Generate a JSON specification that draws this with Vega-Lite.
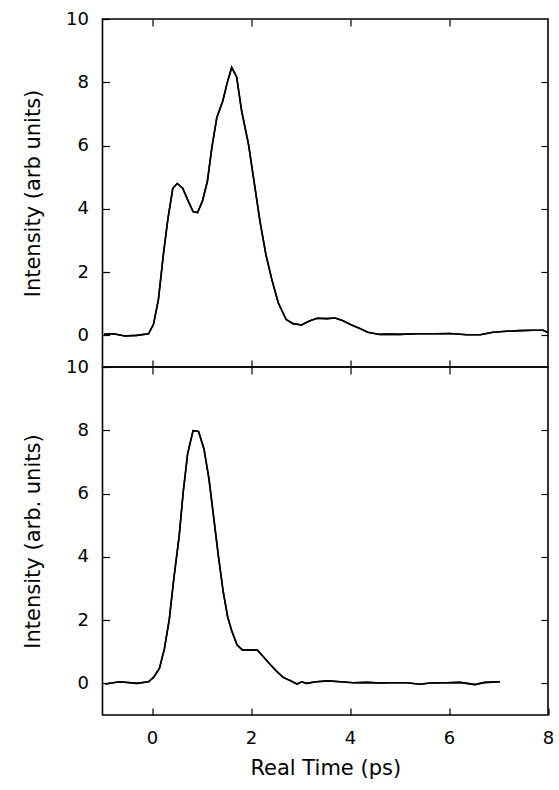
{
  "$schema": "https://vega.github.io/schema/vega-lite/v6.json",
  "background": "white",
  "padding": {"left": 21.5, "top": 9, "right": 6, "bottom": 5},
  "spacing": 0,
  "bounds": "flush",
  "datasets": {
    "top": [
      {"t": -0.97, "v": 0.03}, {"t": -0.78, "v": 0.05}, {"t": -0.55, "v": -0.02}, {"t": -0.31, "v": 0.0},
      {"t": -0.07, "v": 0.05}, {"t": 0.03, "v": 0.35}, {"t": 0.13, "v": 1.14}, {"t": 0.23, "v": 2.56},
      {"t": 0.32, "v": 3.67}, {"t": 0.42, "v": 4.65}, {"t": 0.51, "v": 4.8}, {"t": 0.62, "v": 4.65},
      {"t": 0.73, "v": 4.25}, {"t": 0.83, "v": 3.91}, {"t": 0.92, "v": 3.88}, {"t": 1.02, "v": 4.25},
      {"t": 1.12, "v": 4.88}, {"t": 1.21, "v": 5.94}, {"t": 1.31, "v": 6.89}, {"t": 1.43, "v": 7.41},
      {"t": 1.52, "v": 7.99}, {"t": 1.61, "v": 8.47}, {"t": 1.71, "v": 8.17}, {"t": 1.81, "v": 7.1},
      {"t": 1.95, "v": 6.04}, {"t": 2.06, "v": 4.88}, {"t": 2.18, "v": 3.62}, {"t": 2.3, "v": 2.56},
      {"t": 2.42, "v": 1.77}, {"t": 2.55, "v": 1.03}, {"t": 2.71, "v": 0.5}, {"t": 2.85, "v": 0.37},
      {"t": 3.02, "v": 0.33}, {"t": 3.19, "v": 0.46}, {"t": 3.34, "v": 0.54}, {"t": 3.53, "v": 0.53},
      {"t": 3.7, "v": 0.55}, {"t": 3.86, "v": 0.46}, {"t": 4.03, "v": 0.33}, {"t": 4.2, "v": 0.22},
      {"t": 4.36, "v": 0.1}, {"t": 4.6, "v": 0.03}, {"t": 4.81, "v": 0.04}, {"t": 5.01, "v": 0.03},
      {"t": 5.35, "v": 0.05}, {"t": 5.69, "v": 0.05}, {"t": 6.02, "v": 0.06}, {"t": 6.36, "v": 0.02},
      {"t": 6.63, "v": 0.02}, {"t": 6.89, "v": 0.1}, {"t": 7.16, "v": 0.13}, {"t": 7.43, "v": 0.15},
      {"t": 7.7, "v": 0.16}, {"t": 7.9, "v": 0.16}, {"t": 8.0, "v": 0.09}
    ],
    "bottom": [
      {"t": -0.95, "v": -0.02}, {"t": -0.65, "v": 0.05}, {"t": -0.31, "v": 0.0}, {"t": -0.07, "v": 0.05},
      {"t": 0.03, "v": 0.19}, {"t": 0.15, "v": 0.47}, {"t": 0.25, "v": 1.09}, {"t": 0.35, "v": 2.03},
      {"t": 0.44, "v": 3.3}, {"t": 0.55, "v": 4.67}, {"t": 0.63, "v": 6.04}, {"t": 0.72, "v": 7.26},
      {"t": 0.83, "v": 7.99}, {"t": 0.94, "v": 7.96}, {"t": 1.05, "v": 7.41}, {"t": 1.15, "v": 6.47},
      {"t": 1.25, "v": 5.2}, {"t": 1.34, "v": 4.04}, {"t": 1.44, "v": 2.88}, {"t": 1.53, "v": 2.09},
      {"t": 1.61, "v": 1.66}, {"t": 1.72, "v": 1.21}, {"t": 1.83, "v": 1.05}, {"t": 1.98, "v": 1.05},
      {"t": 2.13, "v": 1.05}, {"t": 2.25, "v": 0.84}, {"t": 2.38, "v": 0.61}, {"t": 2.52, "v": 0.38},
      {"t": 2.65, "v": 0.19}, {"t": 2.8, "v": 0.08}, {"t": 2.93, "v": -0.02}, {"t": 3.02, "v": 0.05},
      {"t": 3.12, "v": 0.0}, {"t": 3.32, "v": 0.05}, {"t": 3.56, "v": 0.08}, {"t": 3.8, "v": 0.05},
      {"t": 4.07, "v": 0.02}, {"t": 4.34, "v": 0.03}, {"t": 4.61, "v": 0.01}, {"t": 4.81, "v": 0.02},
      {"t": 5.15, "v": 0.02}, {"t": 5.41, "v": -0.03}, {"t": 5.62, "v": 0.01}, {"t": 5.95, "v": 0.02},
      {"t": 6.22, "v": 0.03}, {"t": 6.36, "v": 0.0}, {"t": 6.53, "v": -0.04}, {"t": 6.63, "v": 0.0},
      {"t": 6.73, "v": 0.03}, {"t": 6.89, "v": 0.04}, {"t": 7.03, "v": 0.05}
    ]
  },
  "vconcat": [
    {
      "data": {"name": "top"},
      "width": 445.5,
      "height": 348,
      "layer": [
        {
          "mark": {"type": "line", "color": "black", "strokeWidth": 1.6},
          "encoding": {
            "x": {"field": "t", "type": "quantitative", "scale": {"domain": [-1, 8], "nice": false, "zero": false},
                  "axis": {"orient": "bottom", "values": [0, 2, 4, 6], "labels": false, "title": null}},
            "y": {"field": "v", "type": "quantitative", "scale": {"domain": [-1, 10], "nice": false, "zero": false},
                  "axis": {"orient": "left", "values": [0, 2, 4, 6, 8, 10], "title": "Intensity (arb units)"}}
          }
        },
        {
          "mark": {"type": "line", "color": "black", "strokeWidth": 1.6},
          "encoding": {
            "x": {"field": "t", "type": "quantitative", "scale": {"domain": [-1, 8], "nice": false, "zero": false},
                  "axis": {"orient": "top", "values": [0, 2, 4, 6], "labels": false, "title": null}},
            "y": {"field": "v", "type": "quantitative", "scale": {"domain": [-1, 10], "nice": false, "zero": false},
                  "axis": {"orient": "right", "values": [0, 2, 4, 6, 8], "labels": false, "title": null}}
          }
        }
      ],
      "resolve": {"axis": {"x": "independent", "y": "independent"}}
    },
    {
      "data": {"name": "bottom"},
      "width": 445.5,
      "height": 348,
      "layer": [
        {
          "mark": {"type": "line", "color": "black", "strokeWidth": 1.6},
          "encoding": {
            "x": {"field": "t", "type": "quantitative", "scale": {"domain": [-1, 8], "nice": false, "zero": false},
                  "axis": {"orient": "bottom", "values": [0, 2, 4, 6, 8], "title": "Real Time (ps)", "titlePadding": 10}},
            "y": {"field": "v", "type": "quantitative", "scale": {"domain": [-1, 10], "nice": false, "zero": false},
                  "axis": {"orient": "left", "values": [0, 2, 4, 6, 8, 10], "title": "Intensity (arb. units)"}}
          }
        },
        {
          "mark": {"type": "line", "color": "black", "strokeWidth": 1.6},
          "encoding": {
            "x": {"field": "t", "type": "quantitative", "scale": {"domain": [-1, 8], "nice": false, "zero": false},
                  "axis": {"orient": "top", "values": [0, 2, 4, 6], "labels": false, "title": null}},
            "y": {"field": "v", "type": "quantitative", "scale": {"domain": [-1, 10], "nice": false, "zero": false},
                  "axis": {"orient": "right", "values": [0, 2, 4, 6, 8], "labels": false, "title": null}}
          }
        }
      ],
      "resolve": {"axis": {"x": "independent", "y": "independent"}}
    }
  ],
  "config": {
    "view": {"stroke": "black", "strokeWidth": 1.6},
    "axis": {
      "grid": false,
      "domain": false,
      "offset": -7,
      "tickColor": "black",
      "tickWidth": 1.2,
      "tickSize": 7,
      "labelFont": "DejaVu Sans",
      "labelFontSize": 18,
      "labelColor": "black",
      "labelPadding": 14,
      "labelFlush": false,
      "labelOverlap": false,
      "titleFont": "DejaVu Sans",
      "titleFontSize": 21,
      "titleFontWeight": "normal",
      "titleColor": "black",
      "titlePadding": 22
    }
  }
}
